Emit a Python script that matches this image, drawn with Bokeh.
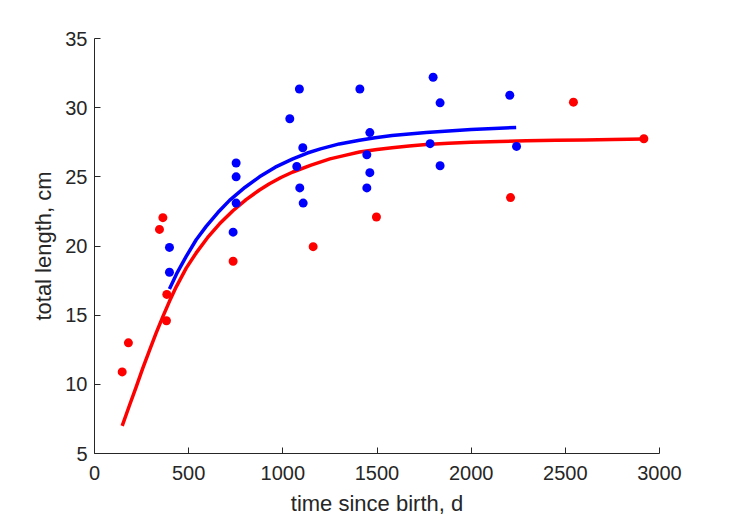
from bokeh.plotting import figure
from bokeh.models import Range1d, FixedTicker
from bokeh.embed import file_html
from bokeh.resources import INLINE

# observed data, red group
red_t = [147, 180, 345, 363, 382, 384, 736, 1161, 1497, 2209, 2543, 2917]
red_L = [10.9, 13.0, 21.2, 22.05, 14.6, 16.5, 18.9, 19.95, 22.1, 23.5, 30.4, 27.75]

# observed data, blue group
blue_t = [398, 398, 736, 752, 752, 752, 1037, 1074, 1088, 1090, 1106, 1108,
          1409, 1446, 1446, 1462, 1462, 1782, 1798, 1835, 1835, 2205, 2241]
blue_L = [19.9, 18.1, 21.0, 23.1, 25.0, 26.0, 29.2, 25.75, 31.35, 24.2, 27.1, 23.1,
          31.35, 26.6, 24.2, 28.2, 25.3, 27.4, 32.2, 30.35, 25.8, 30.9, 27.2]

# fitted growth curves
red_fit_t = [147, 185, 221, 256, 292, 327, 363, 398, 434, 487, 540, 600, 664, 735, 805,
             876, 929, 990, 1053, 1150, 1250, 1330, 1407, 1500, 1580, 1670, 1761, 1880,
             2000, 2150, 2292, 2450, 2600, 2750, 2917]
red_fit_L = [7.0, 8.45, 9.8, 11.15, 12.45, 13.7, 14.9, 16.0, 17.05, 18.4, 19.5, 20.6,
             21.6, 22.55, 23.35, 24.05, 24.5, 24.95, 25.35, 25.85, 26.3, 26.55, 26.8,
             26.98, 27.1, 27.23, 27.33, 27.43, 27.5, 27.56, 27.6, 27.64, 27.67, 27.7, 27.73]
blue_fit_t = [398, 440, 487, 540, 593, 655, 717, 800, 876, 960, 1053, 1130, 1200, 1300,
              1407, 1490, 1580, 1670, 1761, 1880, 2000, 2120, 2239]
blue_fit_L = [16.9, 18.1, 19.25, 20.45, 21.42, 22.42, 23.3, 24.25, 25.0, 25.7, 26.3, 26.72,
              27.02, 27.38, 27.65, 27.83, 27.98, 28.1, 28.2, 28.32, 28.42, 28.5, 28.57]

x_ticks = [0, 500, 1000, 1500, 2000, 2500, 3000]
y_ticks = [5, 10, 15, 20, 25, 30, 35]

AX = "#262626"
FONT = "Liberation Sans"

p = figure(width=713, height=518, output_backend="svg", toolbar_location=None,
           x_range=Range1d(0, 3000), y_range=Range1d(5, 35),
           min_border_left=94, min_border_right=54, min_border_top=38, min_border_bottom=53)
p.outline_line_color = None
p.background_fill_color = "white"
p.border_fill_color = "white"
p.xgrid.visible = False
p.ygrid.visible = False

p.line(red_fit_t, red_fit_L, line_color="#ff0000", line_width=3.5, line_join="round")
p.line(blue_fit_t, blue_fit_L, line_color="#0000ff", line_width=3.5, line_join="round")
p.scatter(red_t, red_L, size=9, marker="circle", fill_color="#ff0000", line_color=None)
p.scatter(blue_t, blue_L, size=9, marker="circle", fill_color="#0000ff", line_color=None)

for ax, ticks in ((p.xaxis[0], x_ticks), (p.yaxis[0], y_ticks)):
    ax.ticker = FixedTicker(ticks=ticks)
    ax.minor_tick_line_color = None
    ax.major_tick_in = 6
    ax.major_tick_out = 0
    ax.axis_line_color = AX
    ax.major_tick_line_color = AX
    ax.major_label_text_color = AX
    ax.major_label_text_font = FONT
    ax.major_label_text_font_size = "20px"
    ax.axis_label_text_font = FONT
    ax.axis_label_text_font_size = "22px"
    ax.axis_label_text_font_style = "normal"
    ax.axis_label_text_color = AX

p.xaxis.axis_label = "time since birth, d"
p.yaxis.axis_label = "total length, cm"
p.xaxis.major_label_standoff = 12
p.yaxis.major_label_standoff = 7
p.xaxis.axis_label_standoff = 8
p.yaxis.axis_label_standoff = 6

open("out.html", "w").write(file_html(p, INLINE))
